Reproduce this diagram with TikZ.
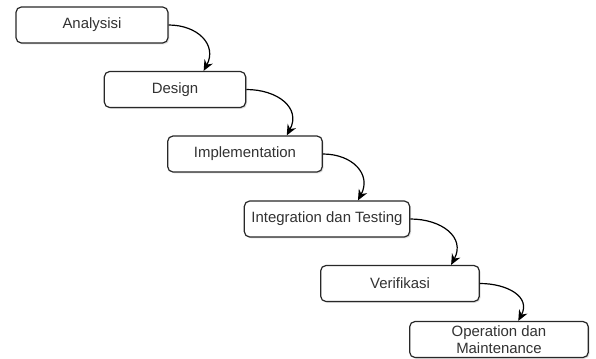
\documentclass[tikz,border=0pt]{standalone}
\usepackage{fontspec}
\setmainfont{Liberation Sans}
\usetikzlibrary{arrows.meta,shadows}

\tikzset{every picture/.style={line width=0.75pt}}
\tikzset{
  stage/.style={draw={rgb,255:red,40;green,40;blue,40}, line width=0.9pt, rounded corners=4pt, fill=white,
    minimum height=27pt, align=center, inner sep=0.75pt, text={rgb,255:red,50;green,50;blue,50},
    font=\fontsize{11.2}{12.5}\selectfont,
    drop shadow={opacity=0.25, shadow xshift=1pt, shadow yshift=-1pt}},
  flow/.style={-{Stealth[length=8pt,width=7pt]}, line width=0.9pt, looseness=1.3}
}

\begin{document}
\begin{tikzpicture}[x=0.75pt,y=0.75pt,yscale=-1,xscale=1]
\useasboundingbox (0,0) rectangle (596,358);

% Rounded Rect
\node (ana) at (92,25) [stage, minimum width=114pt] {Analysisi};
% Rounded Rect
\node (des) at (175,89.5) [stage, minimum width=106pt] {Design};
% Rounded Rect
\node (imp) at (245,154) [stage, minimum width=116pt] {Implementation};
% Rounded Rect
\node (int) at (327,219) [stage, minimum width=124pt] {Integration dan Testing};
% Rounded Rect
\node (ver) at (400,283.5) [stage, minimum width=119pt] {Verifikasi};
% Rounded Rect
\node (ope) at (499,339.5) [stage, minimum width=134pt] {Operation dan\\Maintenance};

% Curve Lines
\draw [flow] (ana.east) to[out=0,in=-62] (des.33);
\draw [flow] (des.east) to[out=0,in=-62] (imp.24);
\draw [flow] (imp.east) to[out=0,in=-62] (int.31);
\draw [flow] (int.east) to[out=0,in=-62] (ver.20);
\draw [flow] (ver.east) to[out=0,in=-62] (ope.44);

\end{tikzpicture}
\end{document}
